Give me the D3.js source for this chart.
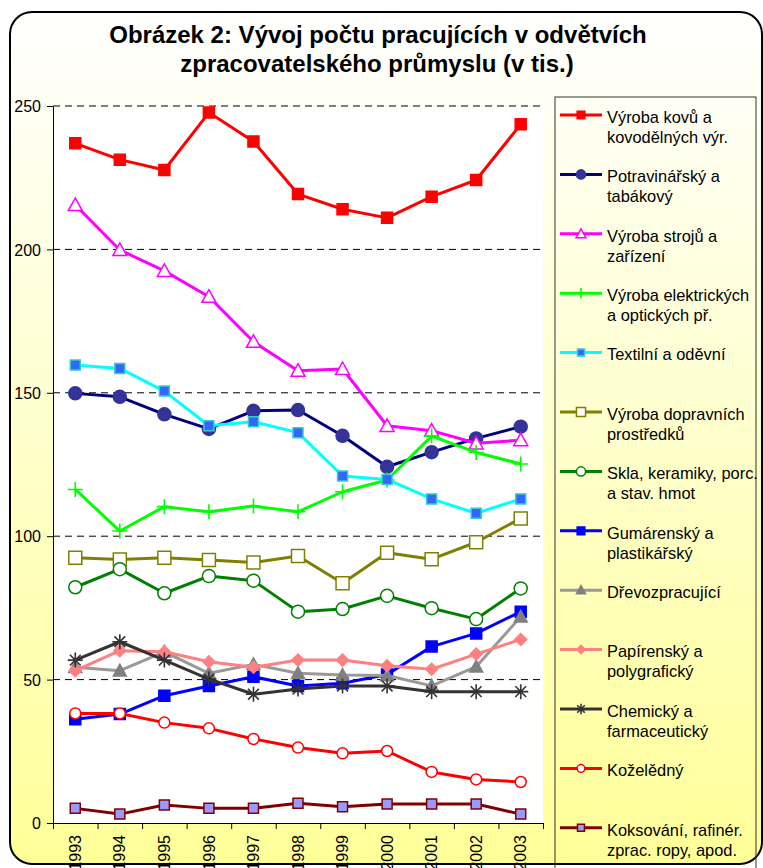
<!DOCTYPE html>
<html lang="cs">
<head>
<meta charset="UTF-8">
<title>Vývoj počtu pracujících v odvětvích zpracovatelského průmyslu</title>
<script src="https://d3js.org/d3.v7.min.js"></script>
<style>
    body { margin: 0; background: #fff; }
    svg text { font-family: "Liberation Sans", Arial, sans-serif; fill: #000; }
    .axis path, .axis line { stroke: #000; }
    .axis text { font-size: 16px; }
</style>
</head>
<body>
<div id="chart"></div>
<script>
    // data (tis. pracujících)
    var years = ["1993","1994","1995","1996","1997","1998","1999","2000","2001","2002","2003"];
    var yTicks = [0, 50, 100, 150, 200, 250];

    var kovy       = [237, 231.3, 227.7, 247.7, 237.6, 219.3, 214, 211, 218.4, 224.2, 243.6];
    var potraviny  = [149.8, 148.6, 142.5, 137.4, 143.7, 144, 135, 124.2, 129.3, 134.1, 138.2];
    var stroje     = [215.5, 199.8, 192.5, 183.5, 167.8, 157.7, 158.3, 138.5, 136.8, 132.4, 133.5];
    var elektro    = [116.3, 101.8, 110.3, 108.5, 110.5, 108.5, 115.5, 119.6, 134.9, 129.2, 125.2];
    var textil     = [159.7, 158.5, 150.6, 138.5, 139.9, 136.1, 121, 119.8, 113, 108, 113];
    var doprava    = [92.5, 91.9, 92.5, 91.7, 90.8, 93.1, 83.6, 94.2, 92, 97.9, 106.2];
    var sklo       = [82.2, 88.5, 80.1, 86.1, 84.5, 73.7, 74.6, 79.2, 74.9, 71.1, 81.8];
    var guma       = [36.2, 38, 44.4, 47.8, 51, 47.8, 48.7, 51.8, 61.5, 66.1, 73.7];
    var drevo      = [54.3, 53.1, 59.7, 52.2, 55.3, 52.2, 51.6, 51.4, 47.8, 54.5, 71.9];
    var papir      = [53.1, 60.1, 59.7, 56.2, 54.3, 56.8, 56.8, 54.8, 53.6, 58.9, 64];
    var chemie     = [56.8, 63.2, 56.8, 50.2, 44.9, 46.7, 47.8, 47.8, 45.8, 45.8, 45.8];
    var kuze       = [38.2, 38.2, 35, 33, 29.3, 26.3, 24.3, 25.1, 17.8, 15.2, 14.3];
    var koks       = [5.1, 3.1, 6.3, 5.1, 5.1, 6.9, 5.7, 6.6, 6.6, 6.6, 3.1];

    var series = [
        {name: ["Výroba kovů a", "kovodělných výr."], values: kovy, line: "#ff0000", marker: "square", fill: "#ff0000", edge: "#ff0000", size: 11},
        {name: ["Potravinářský a", "tabákový"], values: potraviny, line: "#000080", marker: "circle", fill: "#333399", edge: "#333399", size: 13},
        {name: ["Výroba strojů a", "zařízení"], values: stroje, line: "#ff00ff", marker: "triangle", fill: "#fff", edge: "#ff00ff", size: 14},
        {name: ["Výroba elektrických", "a optických př."], values: elektro, line: "#00ff00", marker: "plus", fill: "none", edge: "#00ff00", size: 15},
        {name: ["Textilní a oděvní"], values: textil, line: "#00ffff", marker: "square", fill: "#3366ff", edge: "#33cccc", size: 10},
        {name: ["Výroba dopravních", "prostředků"], values: doprava, line: "#808000", marker: "square", fill: "#fff", edge: "#808000", size: 13},
        {name: ["Skla, keramiky, porc.", "a stav. hmot"], values: sklo, line: "#008000", marker: "circle", fill: "#fff", edge: "#008000", size: 13},
        {name: ["Gumárenský a", "plastikářský"], values: guma, line: "#0000ff", marker: "square", fill: "#0000ff", edge: "#0000ff", size: 11},
        {name: ["Dřevozpracující"], values: drevo, line: "#999999", marker: "triangle", fill: "#808080", edge: "#808080", size: 13},
        {name: ["Papírenský a", "polygrafický"], values: papir, line: "#ff8080", marker: "diamond", fill: "#ff8080", edge: "#ff8080", size: 12},
        {name: ["Chemický a", "farmaceutický"], values: chemie, line: "#333333", marker: "star", fill: "none", edge: "#333333", size: 15},
        {name: ["Koželědný"], values: kuze, line: "#ff0000", marker: "circle", fill: "#fff", edge: "#ff0000", size: 11},
        {name: ["Koksování, rafinér.", "zprac. ropy, apod."], values: koks, line: "#800000", marker: "square", fill: "#9999ff", edge: "#800000", size: 10}
    ];

    var W = 763, H = 868;
    var plot = {left: 53, right: 543, top: 106, bottom: 823};

    var svg = d3.select("#chart").append("svg")
        .attr("width", W)
        .attr("height", H);

    var grad = svg.append("defs").append("linearGradient")
        .attr("id", "bg")
        .attr("x1", 0).attr("y1", 0).attr("x2", 0).attr("y2", 1);
    grad.append("stop").attr("offset", "0%").attr("stop-color", "#ffffff");
    grad.append("stop").attr("offset", "100%").attr("stop-color", "#ffff99");

    // chart frame
    svg.append("rect")
        .attr("x", 10).attr("y", 12)
        .attr("width", 752).attr("height", 852)
        .attr("rx", 22)
        .attr("fill", "url(#bg)")
        .attr("stroke", "#000")
        .attr("stroke-width", 2);

    svg.append("text")
        .attr("x", 378).attr("y", 43)
        .attr("text-anchor", "middle")
        .style("font-size", "24px")
        .style("font-weight", "bold")
        .text("Obrázek 2: Vývoj počtu pracujících v odvětvích");
    svg.append("text")
        .attr("x", 377).attr("y", 72)
        .attr("text-anchor", "middle")
        .style("font-size", "24px")
        .style("font-weight", "bold")
        .text("zpracovatelského průmyslu (v tis.)");

    var x = d3.scaleBand()
        .domain(years)
        .range([plot.left, plot.right]);
    var xEdge = d3.scaleLinear()
        .domain([0, years.length])
        .range([plot.left, plot.right]);
    var y = d3.scaleLinear()
        .domain([0, 250])
        .range([plot.bottom, plot.top]);

    svg.append("rect")
        .attr("x", plot.left).attr("y", plot.top)
        .attr("width", plot.right - plot.left)
        .attr("height", plot.bottom - plot.top)
        .attr("fill", "#fff");

    // dashed gridlines
    svg.append("g")
        .selectAll("line")
        .data(yTicks.filter(d => d > 0))
        .enter().append("line")
            .attr("x1", plot.left).attr("x2", plot.right)
            .attr("y1", d => y(d)).attr("y2", d => y(d))
            .attr("stroke", "#000")
            .attr("stroke-dasharray", "7,5");

    svg.append("g")
        .attr("class", "axis")
        .attr("transform", "translate(" + plot.left + ",0)")
        .call(d3.axisLeft(y).tickValues(yTicks).tickSize(6).tickSizeOuter(0).tickPadding(6))
        .call(g => g.selectAll("text").attr("dy", "0.35em"));

    // tick marks between categories
    svg.append("g")
        .attr("class", "axis")
        .attr("transform", "translate(0," + plot.bottom + ")")
        .call(d3.axisBottom(xEdge).ticks(years.length).tickFormat("").tickSize(6).tickSizeOuter(0));

    svg.append("g")
        .attr("class", "axis")
        .attr("transform", "translate(0," + plot.bottom + ")")
        .call(d3.axisBottom(x).tickSize(0))
        .call(g => g.select(".domain").remove())
        .call(g => g.selectAll("text")
            .attr("transform", "rotate(-90)")
            .attr("text-anchor", "end")
            .attr("x", -12)
            .attr("y", 0)
            .attr("dy", "0.35em"));

    function markerPath(type, s) {
        var h = s / 2;
        switch (type) {
            case "square": return d3.symbol(d3.symbolSquare, s * s)();
            case "circle": return d3.symbol(d3.symbolCircle, Math.PI * h * h)();
            case "triangle": return "M0," + (-h) + "L" + h + "," + (h * 0.8) + "L" + (-h) + "," + (h * 0.8) + "Z";
            case "diamond": return "M0," + (-h) + "L" + h + ",0L0," + h + "L" + (-h) + ",0Z";
            case "plus": return "M" + (-h) + ",0H" + h + "M0," + (-h) + "V" + h;
            case "star":
                var k = h * 0.72;
                return "M" + (-h) + ",0H" + h + "M0," + (-h) + "V" + h +
                    "M" + (-k) + "," + (-k) + "L" + k + "," + k + "M" + (-k) + "," + k + "L" + k + "," + (-k);
        }
    }

    function drawMarker(g, s, px, py, scale) {
        var isLine = s.marker === "plus" || s.marker === "star";
        g.append("path")
            .attr("transform", "translate(" + px + "," + py + ")")
            .attr("d", markerPath(s.marker, s.size * scale))
            .attr("fill", isLine ? "none" : s.fill)
            .attr("stroke", s.edge)
            .attr("stroke-width", isLine ? 1.6 : 1.5);
    }

    var line = d3.line()
        .x((d, i) => x(years[i]) + x.bandwidth() / 2)
        .y(d => y(d));

    series.forEach(s => {
        var g = svg.append("g");
        g.append("path")
            .attr("d", line(s.values))
            .attr("fill", "none")
            .attr("stroke", s.line)
            .attr("stroke-width", 3)
            .attr("stroke-linejoin", "round");
        s.values.forEach((v, i) => drawMarker(g, s, x(years[i]) + x.bandwidth() / 2, y(v), 1));
    });

    // legend
    var legend = svg.append("g");
    legend.append("rect")
        .attr("x", 555).attr("y", 97)
        .attr("width", 201).attr("height", 800)
        .attr("fill", "none")
        .attr("stroke", "#333")
        .attr("stroke-width", 1);

    var legendStep = 59.4;
    series.forEach((s, i) => {
        var ly = 115 + i * legendStep;
        var g = legend.append("g");
        g.append("line")
            .attr("x1", 560).attr("x2", 602)
            .attr("y1", ly).attr("y2", ly)
            .attr("stroke", s.line)
            .attr("stroke-width", 3);
        drawMarker(g, s, 581, ly, 0.7);
        s.name.forEach((t, j) => {
            g.append("text")
                .attr("x", 607)
                .attr("y", ly + 2 + j * 20)
                .attr("dy", "0.35em")
                .style("font-size", "16.4px")
                .text(t);
        });
    });
</script>
</body>
</html>
